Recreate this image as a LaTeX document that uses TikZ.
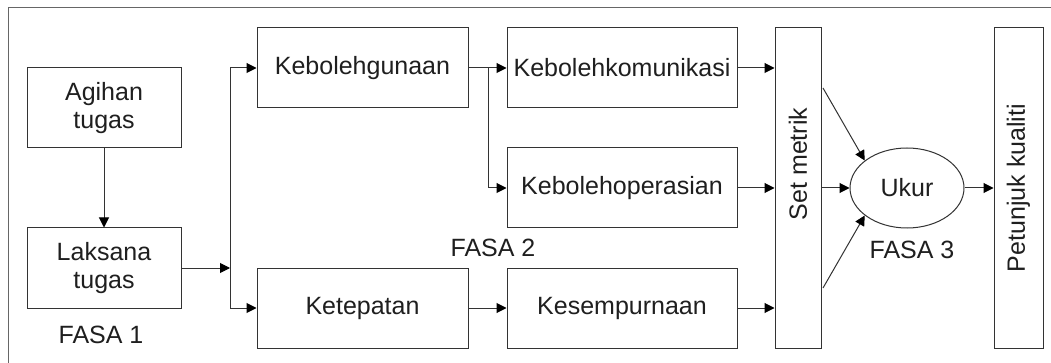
\documentclass[tikz,border=0pt]{standalone}
\usepackage{fontspec}
\setmainfont{Liberation Sans}
\usepackage{graphicx}
\usetikzlibrary{arrows.meta,shapes.geometric}

\begin{document}
\begin{tikzpicture}[x=1pt, y=-1pt,
		kotak/.style={draw=black!80, line width=1pt, minimum width=#1, minimum height=80pt,
			inner sep=0pt, align=center, text=black!88, font=\fontsize{25}{28}\selectfont},
		kotak/.default=154pt,
		panah/.style={draw=black!80, line width=1pt, -{Triangle[length=10pt,width=10pt,color=black]}},
		fasa/.style={inner sep=0pt, text=black!88, font=\fontsize{25}{28}\selectfont}]
		%%%%% START %%%%%
		
		\useasboundingbox[fill=white] (0,0) rectangle (1051,363);
		\draw[line width=1pt, color=black!60] (8,363) -- (8,8) -- (1051,8);
		
		%%%%% FASA 1 %%%%%
		\node[kotak] (agihan) at (104,108) {Agihan\\tugas};
		\node[kotak] (laksana) at (104,268) {Laksana\\tugas};
		\node[fasa] (fasa1) at (101,335) {FASA 1};
		
		\draw[panah] (agihan) -- (laksana);
		\coordinate (pisah) at (230,268);
		\draw[panah] (laksana) -- (pisah);
		
		%%%%% FASA 2 %%%%%
		\node[kotak=211pt] (guna) at (362.5,68) {Kebolehgunaan};
		\node[kotak=211pt] (tepat) at (362.5,308) {Ketepatan};
		\node[kotak=230pt] (komunikasi) at (622,68) {Kebolehkomunikasi};
		\node[kotak=230pt] (operasi) at (622,188) {Kebolehoperasian};
		\node[kotak=230pt] (sempurna) at (622,308) {Kesempurnaan};
		\node[fasa] (fasa2) at (493,248) {FASA 2};
		
		\draw[panah] (pisah) |- (guna);
		\draw[panah] (pisah) |- (tepat);
		\draw[panah] (guna) -- (komunikasi);
		\coordinate (cabang) at (488,68);
		\draw[panah] (cabang) |- (operasi);
		\draw[panah] (tepat) -- (sempurna);
		
		%%%%% FASA 3 %%%%%
		\node[kotak=46pt, minimum height=320pt] (metrik) at (798,188) {\rotatebox{90}{\hspace*{48pt}Set metrik}};
		\node[kotak=114pt, ellipse] (ukur) at (907,188) {Ukur};
		\node[kotak=49pt, minimum height=320pt] (petunjuk) at (1018.5,188) {\rotatebox{90}{Petunjuk kualiti}};
		\node[fasa] (fasa3) at (912,250) {FASA 3};
		
		\draw[panah] (komunikasi.east) -- (komunikasi.east -| metrik.west);
		\draw[panah] (operasi.east) -- (operasi.east -| metrik.west);
		\draw[panah] (sempurna.east) -- (sempurna.east -| metrik.west);
		
		\coordinate (atas) at (823,88);
		\coordinate (bawah) at (823,288);
		\draw[panah] (atas) -- (ukur.147);
		\draw[panah] (metrik) -- (ukur);
		\draw[panah] (bawah) -- (ukur.213);
		\draw[panah] (ukur) -- (petunjuk);
		
		%%%%% END %%%%%
	\end{tikzpicture}
\end{document}
